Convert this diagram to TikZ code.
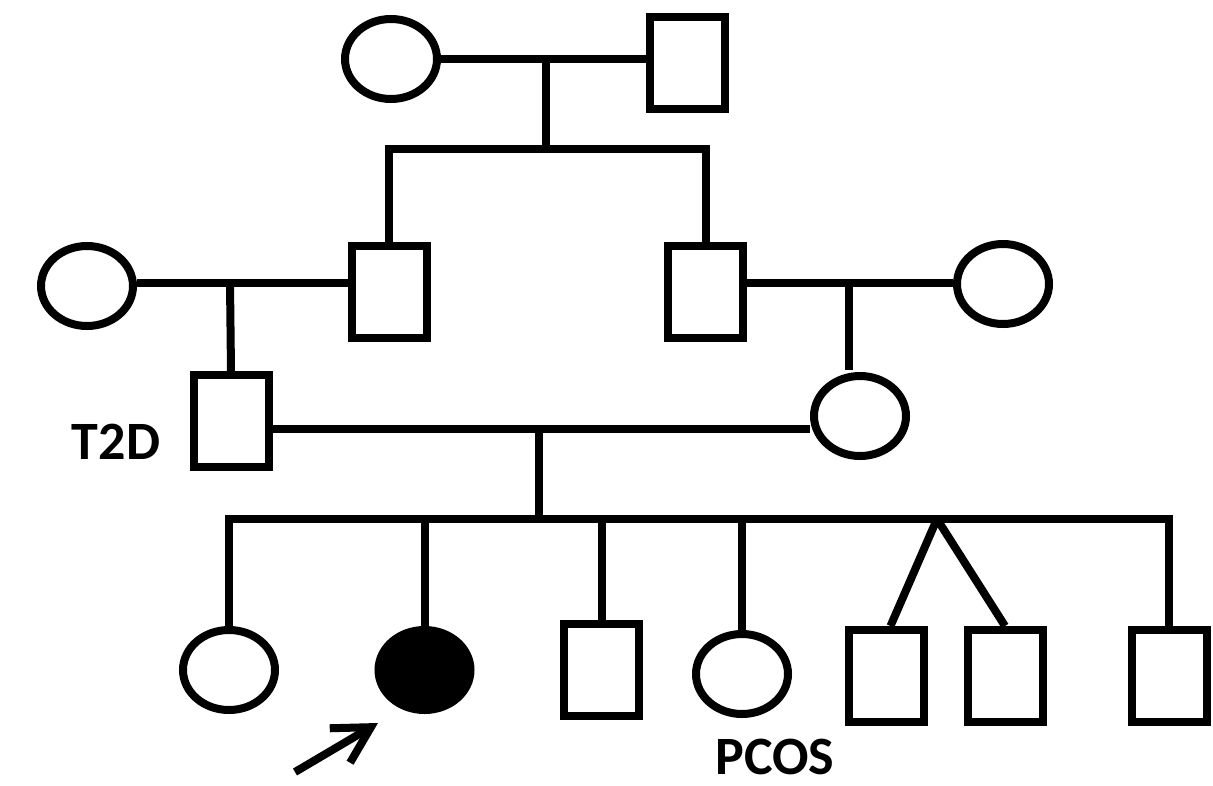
\documentclass[tikz,border=0pt]{standalone}
\usepackage{fontspec}
\setmainfont{Carlito}
\usetikzlibrary{shapes.geometric,arrows.meta}
\begin{document}
\begin{tikzpicture}[x=1pt,y=-1pt,
  line width=8pt,
  female/.style={draw,ellipse,inner sep=0pt,minimum width=92pt,minimum height=80pt},
  affected/.style={female,fill=black},
  male/.style={draw,rectangle,inner sep=0pt,minimum width=75pt,minimum height=92pt},
  lbl/.style={inner sep=0pt,font=\fontsize{54}{58}\selectfont\bfseries},
  link/.style={line width=8pt}]
\useasboundingbox (0,0) rectangle (1213,785);
% Generation I
\node[female] (If) at (391,59) {};
\node[male] (Im) at (687.5,62.5) {};
% Generation II
\node[female] (IIf1) at (87,286) {};
\node[male] (IIm1) at (389,292) {};
\node[male] (IIm2) at (705.5,292) {};
\node[female] (IIf2) at (1003,284) {};
% Generation III
\node[male] (IIIm) at (231,421) {};
\node[female] (IIIf) at (860,416) {};
\node[lbl] (t2d) at (116,442) {T2D};
% Generation IV
\node[female] (IV1) at (229,670) {};
\node[affected] (IV2) at (424.5,670) {};
\node[male] (IV3) at (601.5,669.5) {};
\node[female] (IV4) at (742,674) {};
\node[male] (IV5) at (886.5,676) {};
\node[male] (IV6) at (1005,676) {};
\node[male] (IV7) at (1169,676) {};
\node[lbl] (pcos) at (775,757) {PCOS};
% helper coordinates
\coordinate (mI) at (546,60);
\coordinate (sI) at (546,149);
\coordinate (mIIa) at (230,283);
\coordinate (mIIb) at (849,283);
\coordinate (mIII) at (539,429);
\coordinate (sIV) at (539,519);
\coordinate (twin) at (937,519);
\coordinate (arrTail) at (295,772);
\coordinate (arrTip) at (378,723);
% Generation I connectors
\draw[link] (If.east) -- (Im.west |- If.east);
\draw[link] (mI) -- (sI);
\draw[link,line join=miter] (IIm1.north) -- (IIm1.north |- sI) -- (IIm2.north |- sI) -- (IIm2.north);
% Generation II connectors
\draw[link] (IIf1.east |- mIIa) -- (IIm1.west |- mIIa);
\draw[link] (mIIa) -- (IIIm.north);
\draw[link] (IIm2.east |- mIIb) -- (IIf2.west |- mIIb);
\draw[link] (mIIb) -- ([yshift=2pt]mIIb |- IIIf.north);
% Generation III connectors
\draw[link] (IIIm.east |- mIII) -- (IIIf.west |- mIII);
\draw[link] (mIII) -- (sIV);
\draw[link,line join=miter] (IV1.north) -- (IV1.north |- sIV) -- (IV7.north |- sIV) -- (IV7.north);
\draw[link] (IV2.north) -- (IV2.north |- sIV);
\draw[link] (IV3.north) -- (IV3.north |- sIV);
\draw[link] (IV4.north) -- (IV4.north |- sIV);
\draw[link] (twin) -- ([xshift=4pt]IV5.north);
\draw[link] (twin) -- (IV6.north);
% proband arrow
\draw[link,-{Straight Barb[length=36pt,width=40pt,line width=8pt]}] (arrTail) -- (arrTip);
\end{tikzpicture}
\end{document}
